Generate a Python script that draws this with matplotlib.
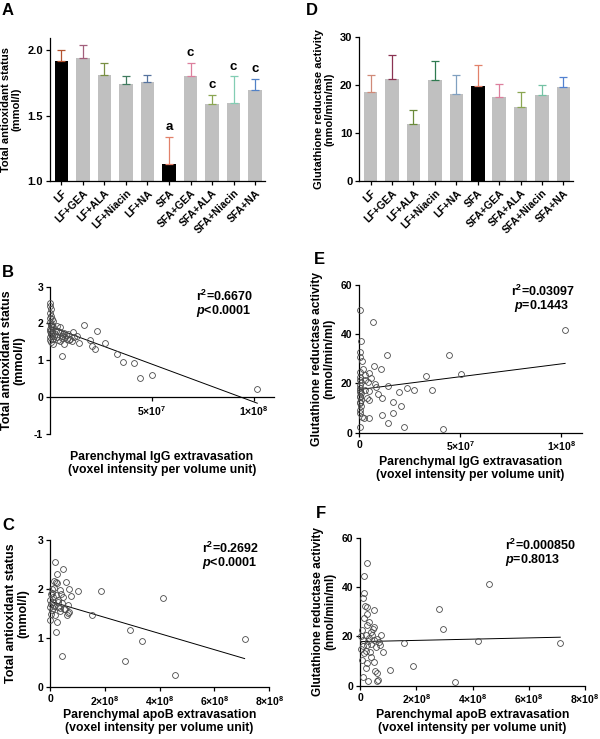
import matplotlib
matplotlib.use("Agg")
import matplotlib.pyplot as plt

plt.rcParams['font.family'] = ['Liberation Sans', 'DejaVu Sans']
plt.rcParams['font.weight'] = 'bold'
plt.rcParams['axes.labelweight'] = 'bold'
plt.rcParams['mathtext.fontset'] = 'custom'
plt.rcParams['mathtext.rm'] = 'Liberation Sans:bold'
plt.rcParams['mathtext.bf'] = 'Liberation Sans:bold'
plt.rcParams['mathtext.it'] = 'Liberation Sans:italic:bold'
plt.rcParams['mathtext.default'] = 'bf'

# ---------------- data ----------------
groups = ["LF", "LF+GEA", "LF+ALA", "LF+Niacin", "LF+NA",
          "SFA", "SFA+GEA", "SFA+ALA", "SFA+Niacin", "SFA+NA"]
tas_mean = [1.92, 1.94, 1.81, 1.74, 1.76, 1.13, 1.80, 1.59, 1.60, 1.70]
tas_upper = [2.00, 2.04, 1.90, 1.80, 1.81, 1.34, 1.90, 1.66, 1.80, 1.78]
tas_letters = ["", "", "", "", "", "a", "c", "c", "c", "c"]
gr_mean = [18.6, 21.2, 11.9, 21.0, 18.2, 19.9, 17.6, 15.4, 18.0, 19.7]
gr_upper = [22.1, 26.4, 14.9, 25.1, 22.2, 24.3, 20.3, 18.5, 20.1, 21.8]
err_colors_a = ["#b4532f", "#a35f7c", "#788f42", "#3f7a5e", "#56739f",
                "#e2816a", "#dd7f9d", "#8aa652", "#82cdb3", "#5281c6"]
err_colors_d = ["#d08a78", "#8a3352", "#6a8a3a", "#2f7a50", "#80a0c0",
                "#e2816a", "#dd7f9d", "#8aa652", "#74c2a4", "#5281d0"]

# Panel B: IgG (x in 1e6 units) vs total antioxidant status
b_x = [0.1, 0.2, 0.3, 0.05, 0.4, 0.2, 0.9, 1.6, 0.1, 0.5, 0.3, 1.2, 1.3, 0.2, 0.6, 0.1,
       0.8, 0.3, 0.5, 1.0, 0.2, 1.6, 0.1, 0.4,
       1.6, 3.3, 4.1, 4.9, 4.9, 5.7, 5.7, 6.5, 6.9, 7.4, 8.2, 2.5, 3.3, 9.2, 9.0, 10.0,
       11.0, 11.4, 12.0, 2.0, 3.0, 4.0, 6.0, 7.0, 8.0, 5.0,
       13.3, 14.4, 16.8, 19.6, 20.4, 22.0, 23.2, 27.1, 32.8, 36.0, 41.3, 44.3, 50.2, 101.8]
b_y = [2.56, 2.47, 2.38, 2.29, 2.20, 2.14, 2.12, 2.07, 2.03, 1.98, 1.94, 1.92, 1.89, 1.85, 1.82, 1.80,
       1.76, 1.73, 1.71, 1.67, 1.62, 1.58, 1.54, 1.50,
       1.43, 1.94, 1.80, 1.76, 1.89, 1.67, 1.12, 1.71, 1.43, 1.63, 1.58, 1.71, 1.62, 1.54, 1.70, 1.58,
       1.52, 1.76, 1.62, 1.66, 1.80, 1.55, 1.60, 1.75, 1.68, 1.53,
       1.67, 1.46, 1.96, 1.55, 1.38, 1.31, 1.80, 1.46, 1.16, 0.96, 0.92, 0.51, 0.61, 0.22]
b_fit_x = [0.0, 101.8]
b_fit_y = [1.92, -0.17]

# Panel E: IgG (x in 1e6 units) vs glutathione reductase activity
e_x = [0.1, 0.8, 0.1, 0.2, 1.3, 0.1, 0.3, 0.1, 1.0, 0.1, 0.3, 0.1, 1.0, 0.2, 0.7, 0.1,
       1.0, 0.2, 0.4, 1.3, 0.1, 0.5, 0.4, 0.2,
       2.0, 2.6, 2.8, 3.0, 3.6, 4.4, 4.9, 5.6, 5.0, 4.9, 4.9, 2.3, 6.9, 7.2, 7.6, 8.4,
       9.4, 10.7, 11.2, 11.2, 13.5, 14.1, 14.3, 16.8, 16.8, 19.7, 20.4, 22.0, 23.4, 27.1,
       32.9, 35.9, 41.4, 44.2, 50.2, 101.8]
e_y = [49.7, 37.3, 32.6, 30.8, 29.1, 24.7, 22.7, 21.4, 20.7, 19.3, 18.0, 16.6, 15.9, 14.6, 13.2, 11.9,
       10.8, 9.2, 7.8, 6.5, 2.4, 17.2, 15.0, 12.5,
       25.7, 23.4, 21.4, 17.5, 13.9, 20.7, 24.1, 22.0, 17.0, 13.2, 5.8, 5.8, 44.7, 27.2, 19.7, 18.6,
       15.5, 25.7, 14.1, 7.3, 31.4, 18.9, 3.9, 12.4, 8.1, 16.5, 10.7, 2.4, 18.1, 17.2,
       23.1, 17.3, 1.5, 31.4, 23.9, 41.5]
e_fit_x = [0.0, 101.8]
e_fit_y = [17.5, 28.1]

# Panel C: apoB (x in 1e6 units) vs total antioxidant status
c_x = [19, 46, 24, 15, 22, 27, 58, 6, 36, 71, 103, 185, 2, 12, 22, 49, 75, 0, 10, 30, 43, 67,
       0, 12, 36, 55, 71, 61, 3, 19, 24, 0, 22, 44, 153, 292, 337, 275, 413, 455, 710,
       5, 8, 16, 28, 35, 40, 52, 65, 30, 14, 8]
c_y = [2.56, 2.41, 2.31, 2.17, 2.15, 2.12, 2.15, 2.01, 1.98, 2.01, 1.96, 1.96, 1.89, 1.84, 1.88,
       1.84, 1.86, 1.78, 1.74, 1.78, 1.71, 1.67, 1.64, 1.61, 1.62, 1.59, 1.54, 1.47, 1.50, 1.47,
       1.32, 1.37, 1.12, 0.63, 1.47, 1.17, 0.93, 0.53, 1.81, 0.24, 0.97,
       1.70, 1.92, 1.66, 1.73, 1.55, 1.90, 1.60, 1.52, 1.63, 2.02, 1.58]
c_fit_x = [0.0, 710.0]
c_fit_y = [1.75, 0.58]

# Panel F: apoB (x in 1e6 units) vs glutathione reductase activity
f_x = [26, 14, 14, 12, 18, 24, 50, 26, 14, 32, 24, 48, 8, 38, 20, 32, 12, 50, 76, 68, 26, 56,
       83, 14, 38, 8, 26, 50, 52, 62, 20, 12, 29, 62, 64, 107, 157, 189, 280, 296, 339, 418,
       457, 712, 5, 10, 30, 40, 44, 20, 60, 35, 45, 5, 70]
f_y = [49.8, 44.7, 37.6, 35.5, 32.4, 31.9, 30.6, 29.0, 27.4, 26.0, 24.7, 24.0, 22.6, 22.0, 20.6,
       19.3, 18.6, 18.5, 20.5, 17.9, 16.5, 15.9, 13.8, 13.2, 11.8, 10.4, 9.1, 9.8, 6.1, 5.3, 7.1,
       3.7, 2.0, 2.0, 2.3, 6.4, 17.2, 8.0, 31.3, 22.9, 1.4, 18.0, 41.4, 17.2,
       20.0, 16.0, 18.0, 16.8, 20.5, 14.0, 18.8, 13.5, 23.0, 15.0, 16.5]
f_fit_x = [0.0, 712.0]
f_fit_y = [17.9, 19.7]

# ---------------- figure ----------------
W, H = 600, 739
fig = plt.figure(figsize=(W / 100, H / 100), dpi=100)


def add_ax(left, top, right, bottom):
    return fig.add_axes([left / W, 1 - bottom / H, (right - left) / W, (bottom - top) / H])


LW = 0.9


def style(ax):
    for s in ['top', 'right']:
        ax.spines[s].set_visible(False)
    for s in ['left', 'bottom']:
        ax.spines[s].set_linewidth(LW)
    ax.tick_params(direction='out', length=3, width=LW, pad=2)


def bar_panel(ax, means, uppers, colors, black_idx, ylim, yticks, ylabel):
    style(ax)
    xs = list(range(len(groups)))
    fc = ['black' if i in black_idx else '#c0c0c0' for i in xs]
    ax.bar(xs, means, width=0.63, color=fc, zorder=2)
    for i in xs:
        ax.errorbar(i, means[i], yerr=[[0], [uppers[i] - means[i]]], color=colors[i],
                    capsize=3, elinewidth=0.9, capthick=0.9, zorder=3, fmt='none')
    ax.set_xlim(-0.53, 9.46)
    ax.set_ylim(*ylim)
    ax.set_yticks(yticks)
    ax.set_xticks(xs)
    ax.set_xticklabels(groups, rotation=45, ha='right', rotation_mode='anchor', fontsize=7.5)
    ax.tick_params(axis='y', labelsize=8)
    ax.set_ylabel(ylabel, fontsize=8, labelpad=4, linespacing=1.05)


axA = add_ax(50, 38, 265, 181)
bar_panel(axA, tas_mean, tas_upper, err_colors_a, [0, 5], (1.0, 2.094), [1.0, 1.5, 2.0],
          "Total antioxidant status\n(mmol/l)")
axA.set_yticklabels(["1.0", "1.5", "2.0"])
for i, t in enumerate(tas_letters):
    if t:
        axA.text(i, tas_upper[i] + 0.03, t, ha='center', va='bottom', fontsize=9.5, fontweight='bold')

axD = add_ax(359.3, 37.3, 573.3, 181)
bar_panel(axD, gr_mean, gr_upper, err_colors_d, [5], (0, 30), [0, 10, 20, 30],
          "Glutathione reductase activity\n(nmol/min/ml)")


def scatter_panel(ax, xs, ys, fx, fy, scale):
    style(ax)
    ax.plot([v * scale for v in xs], ys, 'o', mfc='none', mec='#4a4a4a', mew=0.6,
            ms=4.2, clip_on=False, zorder=3)
    ax.plot([v * scale for v in fx], fy, color='black', lw=0.7, zorder=2)
    ax.tick_params(labelsize=7.5)


# B
axB = add_ax(50, 286.7, 274, 433.7)
scatter_panel(axB, b_x, b_y, b_fit_x, b_fit_y, 1e6)
axB.set_xlim(0, 1.1e8)
axB.set_ylim(-1, 3)
axB.spines['bottom'].set_position(('data', 0))
axB.set_xticks([5e7, 1e8])
axB.set_xticklabels([r'$5{\times}10^{7}$', r'$1{\times}10^{8}$'])
axB.set_yticks([-1, 0, 1, 2, 3])
axB.set_yticklabels(['-1', '0', '1', '2', '3'])
axB.set_ylabel("Total antioxidant status\n(mmol/l)", fontsize=9, labelpad=6, linespacing=1.05)
axB.text(0.652, 0.937, r'$r^{2}$=0.6670', transform=axB.transAxes, fontsize=9, va='center', ha='left')
axB.text(0.652, 0.833, r'$\mathit{p}$<0.0001', transform=axB.transAxes, fontsize=9, va='center', ha='left')
fig.text(162 / W, 1 - 451 / H, "Parenchymal IgG extravasation\n(voxel intensity per volume unit)",
         ha='center', va='top', fontsize=8.8, fontweight='bold', linespacing=1.1)

# E
axE = add_ax(359.3, 284.7, 581.7, 432.7)
scatter_panel(axE, e_x, e_y, e_fit_x, e_fit_y, 1e6)
axE.set_xlim(0, 1.1e8)
axE.set_ylim(0, 60)
axE.set_xticks([0, 5e7, 1e8])
axE.set_xticklabels(['0', r'$5{\times}10^{7}$', r'$1{\times}10^{8}$'])
axE.set_yticks([0, 20, 40, 60])
axE.set_ylabel("Glutathione reductase activity\n(nmol/min/ml)", fontsize=8.7, labelpad=4, linespacing=1.05)
axE.text(0.681, 0.954, r'$r^{2}$=0.03097', transform=axE.transAxes, fontsize=9, va='center', ha='left')
axE.text(0.695, 0.856, r'$\mathit{p}$=0.1443', transform=axE.transAxes, fontsize=9, va='center', ha='left')
fig.text(470.5 / W, 1 - 456 / H, "Parenchymal IgG extravasation\n(voxel intensity per volume unit)",
         ha='center', va='top', fontsize=8.8, fontweight='bold', linespacing=1.1)

# C
axC = add_ax(50, 540, 269.3, 687)
scatter_panel(axC, c_x, c_y, c_fit_x, c_fit_y, 1e6)
axC.set_xlim(0, 8e8)
axC.set_ylim(0, 3)
axC.set_xticks([0, 2e8, 4e8, 6e8, 8e8])
axC.set_xticklabels(['0', r'$2{\times}10^{8}$', r'$4{\times}10^{8}$', r'$6{\times}10^{8}$', r'$8{\times}10^{8}$'])
axC.set_yticks([0, 1, 2, 3])
axC.set_ylabel("Total antioxidant status\n(mmol/l)", fontsize=9, labelpad=6, linespacing=1.05)
axC.text(0.692, 0.946, r'$r^{2}$=0.2692', transform=axC.transAxes, fontsize=9, va='center', ha='left')
axC.text(0.692, 0.844, r'$\mathit{p}$<0.0001', transform=axC.transAxes, fontsize=9, va='center', ha='left')
fig.text(159.6 / W, 1 - 709 / H, "Parenchymal apoB extravasation\n(voxel intensity per volume unit)",
         ha='center', va='top', fontsize=8.8, fontweight='bold', linespacing=1.1)

# F
axF = add_ax(360, 538, 585, 685.7)
scatter_panel(axF, f_x, f_y, f_fit_x, f_fit_y, 1e6)
axF.set_xlim(0, 8e8)
axF.set_ylim(0, 60)
axF.set_xticks([0, 2e8, 4e8, 6e8, 8e8])
axF.set_xticklabels(['0', r'$2{\times}10^{8}$', r'$4{\times}10^{8}$', r'$6{\times}10^{8}$', r'$8{\times}10^{8}$'])
axF.set_yticks([0, 20, 40, 60])
axF.set_ylabel("Glutathione reductase activity\n(nmol/min/ml)", fontsize=8.5, labelpad=4, linespacing=1.05)
axF.text(0.644, 0.95, r'$r^{2}$=0.000850', transform=axF.transAxes, fontsize=9, va='center', ha='left')
axF.text(0.644, 0.848, r'$\mathit{p}$=0.8013', transform=axF.transAxes, fontsize=9, va='center', ha='left')
fig.text(472.5 / W, 1 - 709 / H, "Parenchymal apoB extravasation\n(voxel intensity per volume unit)",
         ha='center', va='top', fontsize=8.8, fontweight='bold', linespacing=1.1)

# panel letters
for lab, x, y in [("A", 2, 3), ("D", 306, 3), ("B", 2, 265), ("E", 314, 252), ("C", 2, 518), ("F", 316, 506)]:
    fig.text(x / W, 1 - y / H, lab, ha='left', va='top', fontsize=12, fontweight='bold')

fig.savefig("out.png", dpi=100)
